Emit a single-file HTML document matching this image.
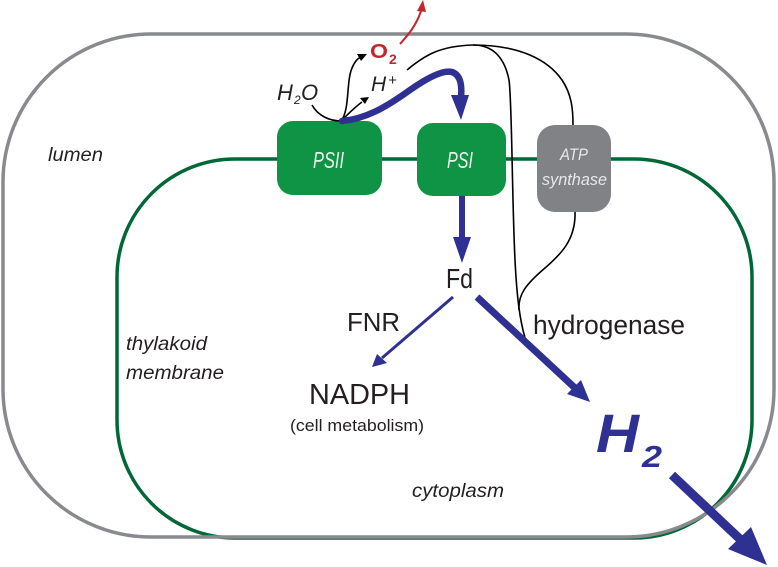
<!DOCTYPE html>
<html><head><meta charset="utf-8"><style>
html,body{margin:0;padding:0;background:#fff;}
svg{display:block;}
text{font-family:"Liberation Sans",sans-serif;}
</style></head><body>
<svg width="778" height="567" viewBox="0 0 778 567" xmlns="http://www.w3.org/2000/svg">
<!-- thylakoid membrane -->
<rect x="117" y="159" width="635" height="379" rx="118" ry="118" fill="none" stroke="#006837" stroke-width="3.5"/>
<!-- cell outline -->
<rect x="3" y="34" width="771" height="503" rx="148" ry="148" fill="none" stroke="#898a8d" stroke-width="3.5"/>

<!-- boxes -->
<rect x="277" y="121" width="105" height="74" rx="16" fill="#0f9344"/>
<rect x="417" y="123" width="89" height="73" rx="16" fill="#0f9344"/>
<rect x="537" y="125" width="74" height="87" rx="18" fill="#808285"/>

<text x="313" y="168" font-size="23" font-style="italic" fill="#eef5ee" textLength="31" lengthAdjust="spacingAndGlyphs">PSII</text>
<text x="447" y="168" font-size="23" font-style="italic" fill="#eef5ee" textLength="26" lengthAdjust="spacingAndGlyphs">PSI</text>
<text x="560" y="160" font-size="17" font-style="italic" fill="#e6e7e8" textLength="28" lengthAdjust="spacingAndGlyphs">ATP</text>
<text x="542" y="185" font-size="17" font-style="italic" fill="#e6e7e8" textLength="65" lengthAdjust="spacingAndGlyphs">synthase</text>

<!-- black curves -->
<g fill="none" stroke="#000" stroke-width="1.6">
<path d="M312,105 C318,116 330,121 341,121"/>
<path d="M341,121 C350,110 346,82 352,68 C355,61 358,58 361,57"/>
<path d="M341,121 C348,114 355,107 362,102"/>
<path d="M407,70 C425,55 440,46 473,45"/>
<path d="M473,45 C520,45 548,60 562,80 C572,95 573,110 573,125"/>
<path d="M473,45 C495,45 505,60 509,80 C512,100 512,200 515,260 C517,300 520,320 525,338"/>
<path d="M575,212 C576,240 560,255 545,268 C525,285 518,295 519,310"/>
</g>
<polygon points="367,54 357,54 361,61" fill="#000"/>
<polygon points="369,97 360,98 365,104" fill="#000"/>

<!-- red O2 arrow -->
<path d="M400,44 C408,35 416,26 421,11" fill="none" stroke="#c4262e" stroke-width="2"/>
<polygon points="423,0 417,11 426,12" fill="#c4262e"/>

<!-- blue curved arrow -->
<path d="M342,121 C365,119 385,108 410,90 C430,76 444,70 452,72 C461,75 462,86 461,98" fill="none" stroke="#2e3192" stroke-width="6.5" stroke-linecap="round"/>
<polygon points="451,95 469,95 461,120" fill="#2e3192"/>

<!-- PSI -> Fd -->
<line x1="462" y1="196" x2="462" y2="240" stroke="#2e3192" stroke-width="6"/>
<polygon points="453,237 471,237 462,263" fill="#2e3192"/>

<!-- Fd -> NADPH -->
<line x1="453" y1="297" x2="382" y2="358" stroke="#2e3192" stroke-width="3"/>
<polygon points="372,367 377,354 387,363" fill="#2e3192"/>

<!-- Fd -> H2 -->
<line x1="477" y1="297" x2="575" y2="388" stroke="#2e3192" stroke-width="7"/>
<polygon points="590,402 567,394 581,380" fill="#2e3192"/>

<!-- H2 out -->
<line x1="672" y1="475" x2="742" y2="541" stroke="#2e3192" stroke-width="9"/>
<polygon points="767,565 728,549 751,527" fill="#2e3192"/>

<!-- labels -->
<g fill="#231f20">
<text x="48" y="161" font-size="19" font-style="italic" textLength="55" lengthAdjust="spacingAndGlyphs">lumen</text>
<text x="126" y="350" font-size="19" font-style="italic" textLength="81" lengthAdjust="spacingAndGlyphs">thylakoid</text>
<text x="126" y="379" font-size="19" font-style="italic" textLength="98" lengthAdjust="spacingAndGlyphs">membrane</text>
<text x="412" y="497" font-size="19" font-style="italic" textLength="92" lengthAdjust="spacingAndGlyphs">cytoplasm</text>

<text x="277" y="100" font-size="22" font-style="italic">H</text>
<text x="294" y="104" font-size="12" font-style="italic">2</text>
<text x="301" y="100" font-size="22" font-style="italic">O</text>
<text x="371" y="91" font-size="21" font-style="italic">H</text>
<text x="388" y="85" font-size="15" font-style="italic">+</text>

<text x="446" y="288" font-size="28" textLength="27" lengthAdjust="spacingAndGlyphs">Fd</text>
<text x="347" y="331" font-size="26" textLength="53" lengthAdjust="spacingAndGlyphs">FNR</text>
<text x="533" y="334" font-size="27" textLength="152" lengthAdjust="spacingAndGlyphs">hydrogenase</text>
<text x="309" y="404" font-size="29" textLength="101" lengthAdjust="spacingAndGlyphs">NADPH</text>
<text x="290" y="431" font-size="17" textLength="134" lengthAdjust="spacingAndGlyphs">(cell metabolism)</text>
</g>

<text x="370" y="58" font-size="20" font-weight="bold" fill="#c4262e" textLength="18" lengthAdjust="spacingAndGlyphs">O</text>
<text x="389" y="64" font-size="14" font-weight="bold" fill="#c4262e">2</text>

<text x="596" y="452" font-size="54" font-weight="bold" font-style="italic" fill="#2e3192" textLength="43" lengthAdjust="spacingAndGlyphs">H</text>
<text x="642" y="467" font-size="31" font-weight="bold" font-style="italic" fill="#2e3192" textLength="20" lengthAdjust="spacingAndGlyphs">2</text>
</svg>
</body></html>
